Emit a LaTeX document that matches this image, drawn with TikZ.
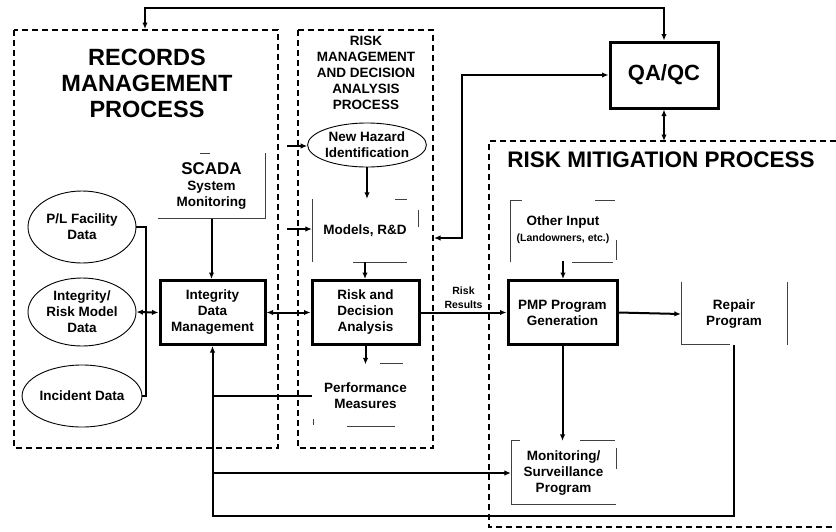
\documentclass[tikz,border=0pt]{standalone}
\usepackage{fontspec}
\setmainfont{Liberation Sans}
\usetikzlibrary{arrows.meta,shapes.geometric}
\begin{document}
\begin{tikzpicture}[x=1pt,y=-1pt,
  txt/.style={font=\bfseries\fontsize{13.5}{16}\selectfont, align=center, inner sep=0pt},
  thickbox/.style={txt, draw, line width=3pt, minimum width=#1, minimum height=64pt},
  openbox/.style={txt, minimum width=#1, minimum height=63pt},
  oval/.style={txt, draw, ellipse, line width=0.9pt, inner sep=0pt},
  frame/.style={line width=1.8pt, dash pattern=on 6pt off 4pt},
  edge/.style={line width=0.8pt, black!75},
  conn/.style={line width=2pt, -{Latex[length=6.5pt,width=5.5pt]}},
  biconn/.style={line width=2pt, {Latex[length=6.5pt,width=5.5pt]}-{Latex[length=6.5pt,width=5.5pt]}},
  thinconn/.style={line width=1.2pt}
]
\useasboundingbox (0,0) rectangle (836,531);

% process frames
\draw[frame] (14,30) rectangle (278,448);
\draw[frame] (298,30) rectangle (433,448);
\draw[frame] (836,141) -- (489,141) -- (489,527) -- (836,527);

% titles
\node[txt, font=\bfseries\fontsize{23.5}{26}\selectfont] (rmtitle) at (147,83) {RECORDS\\MANAGEMENT\\PROCESS};
\node[txt, font=\bfseries\fontsize{13.5}{16}\selectfont] (rdtitle) at (366,73) {RISK\\MANAGEMENT\\AND DECISION\\ANALYSIS\\PROCESS};
\node[txt, font=\bfseries\fontsize{22.5}{26}\selectfont] (mtitle) at (661,160) {RISK MITIGATION PROCESS};

% main boxes
\node[thickbox=105pt] (idm) at (212.5,312.5) {Integrity\\Data\\Management};
\node[thickbox=107pt] (rda) at (365.5,312.5) {Risk and\\Decision\\Analysis};
\node[thickbox=109pt] (pmp) at (562.5,312.5) {PMP Program\\Generation};
\node[thickbox=108pt, minimum height=66pt, font=\bfseries\fontsize{22}{24}\selectfont] (qaqc) at (664,75) {QA/QC};

% open boxes
\node[openbox=107pt, minimum height=65pt] (scada) at (211.5,186) {{\fontsize{17}{19}\selectfont SCADA}\\System\\Monitoring};
\node[openbox=106pt] (models) at (365,230.5) {Models, R\&D};
\node[openbox=107pt] (perf) at (365.5,396) {Performance\\Measures};
\node[openbox=106pt, minimum height=62pt] (other) at (563,230) {Other Input\\{\fontsize{10.5}{12.5}\selectfont (Landowners, etc.)}};
\node[openbox=106pt, minimum height=62pt] (repair) at (734,314) {Repair\\Program};
\node[openbox=105pt, minimum height=64pt] (mon) at (563.5,473) {Monitoring/\\Surveillance\\Program};

% visible edges of open boxes
\draw[edge] (265,153) -- (265,218) -- (158,218);
\draw[edge] (200,153) -- (210,153);
\draw[edge] (312,199) -- (312,262);
\draw[edge] (395,199) -- (407,199);
\draw[edge] (418,210) -- (418,227);
\draw[edge] (353,262) -- (407,262);
\draw[edge] (380,363) -- (403,363);
\draw[edge] (347,426) -- (395,426);
\draw[edge] (313,419) -- (313,425);
\draw[edge] (522,200) -- (510,200) -- (510,262);
\draw[edge] (595,200) -- (615,200);
\draw[edge] (616,240) -- (616,260);
\draw[edge] (572,262) -- (613,262);
\draw[edge] (681,282) -- (681,344) -- (730,344);
\draw[edge] (787,282) -- (787,345);
\draw[edge] (520,440) -- (511,440) -- (511,504) -- (616,504);
\draw[edge] (580,440) -- (615,440);
\draw[edge] (616,448) -- (616,469);

% ellipses
\node[oval, minimum width=108pt, minimum height=72pt] (pl) at (82,227) {P/L Facility\\Data};
\node[oval, minimum width=108pt, minimum height=68pt] (irm) at (82,312) {Integrity/\\Risk Model\\Data};
\node[oval, minimum width=108pt, minimum height=62pt] (inc) at (82,396) {Incident Data};
\node[oval, minimum width=110pt, minimum height=44pt] (nh) at (367,145) {New Hazard\\Identification};

% coordinates
\coordinate (rmtop) at (145,29);
\coordinate (topbend) at (145,8);
\coordinate (mittop) at (664,141);
\coordinate (qbend) at (462,75);
\coordinate (qbend2) at (462,238);
\coordinate (rmgR) at (434,238);
\coordinate (s1) at (287,146);
\coordinate (s2) at (287,229);
\coordinate (loopY) at (0,516);

% connectors
\draw[line width=2pt] (pl.east) -- ++(10,0) |- (inc.east);
\draw[biconn] (irm.east) -- (idm.west);
\draw[conn] (scada.south) -- (scada.south |- idm.north);
\draw[biconn] (idm.east) -- (rda.west);
\draw[conn] (nh.south) -- (nh.south |- models.north);
\draw[conn] (models.south) -- (models.south |- rda.north);
\draw[conn] (rda.south) -- (rda.south |- perf.north);
\draw[conn] (rda.east) -- node[above=3pt, txt, font=\bfseries\fontsize{10.5}{14}\selectfont] (rr) {Risk\\Results} (pmp.west);
\draw[conn] (other.south) -- (other.south |- pmp.north);
\draw[conn] (pmp.east) -- (repair.west);
\draw[conn] (pmp.south) -- (pmp.south |- mon.north);
\draw[conn] (repair.south) -- (repair.south |- loopY) -| (idm.south);
\draw[thinconn] (perf.west) -- (idm.south |- perf.west);
\draw[thinconn, -{Latex[length=6.5pt,width=5.5pt]}] (idm.south |- mon.west) -- (mon.west);
\draw[biconn] (rmtop) -- (topbend) -| (qaqc.north);
\draw[biconn] (qaqc.south) -- (mittop);
\draw[biconn, line width=1.6pt] (qaqc.west) -- (qbend) -- (qbend2) -- (rmgR);
\draw[thinconn, -{Latex[length=6.5pt,width=5.5pt]}] (s1) -- (nh.west |- s1);
\draw[thinconn, -{Latex[length=6.5pt,width=5.5pt]}] (s2) -- (models.west |- s2);
\end{tikzpicture}
\end{document}
